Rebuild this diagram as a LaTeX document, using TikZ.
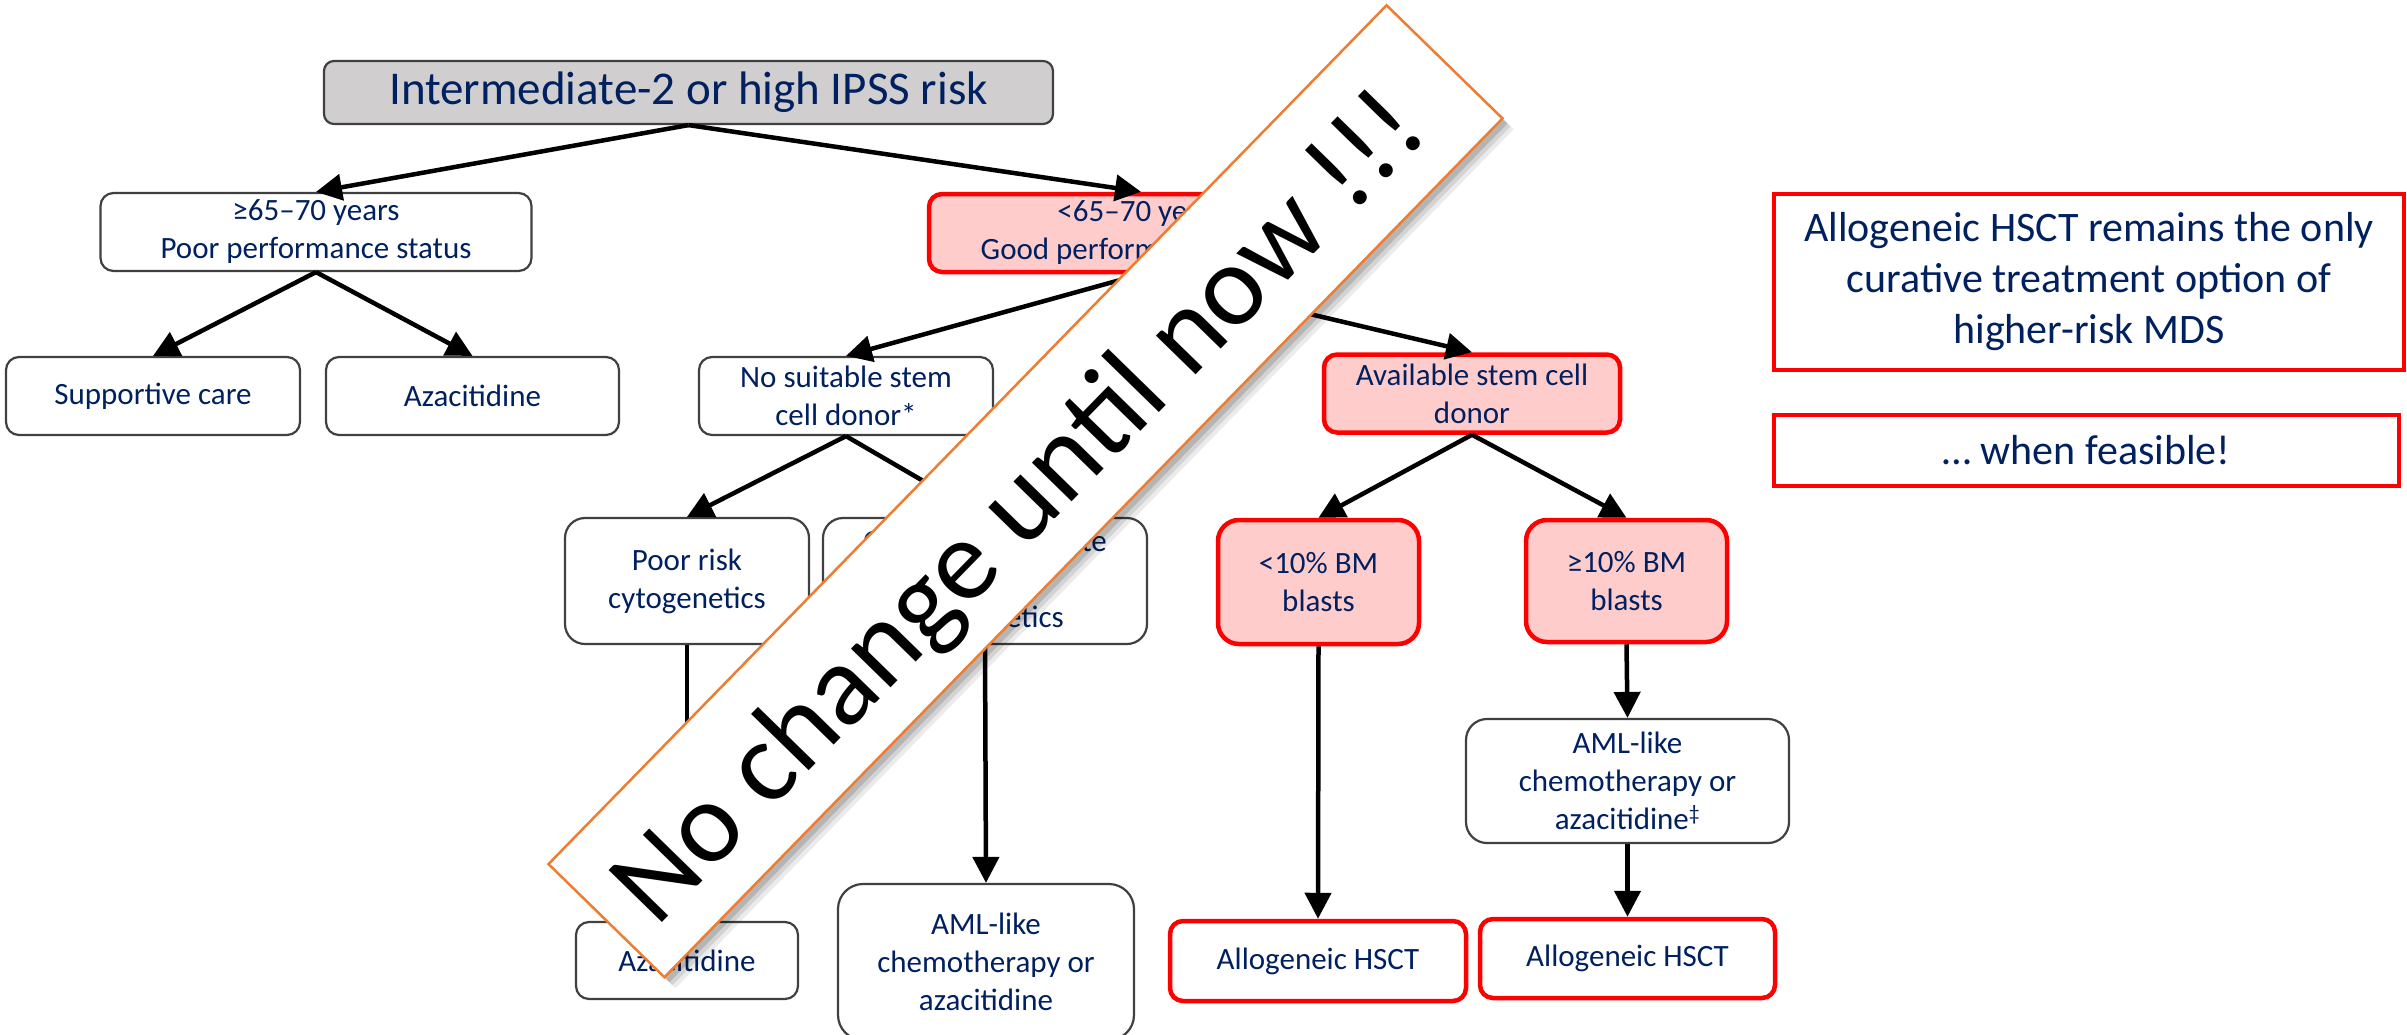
\documentclass[tikz,border=0pt]{standalone}
\usepackage{fontspec}
\setmainfont{Carlito}
\usetikzlibrary{arrows.meta,calc}
\definecolor{navy}{RGB}{0,32,96}
\definecolor{boxgray}{RGB}{208,206,206}
\definecolor{edgegray}{RGB}{64,64,64}
\definecolor{pinkfill}{RGB}{255,204,204}
\definecolor{alertred}{RGB}{255,0,0}
\definecolor{bannerorange}{RGB}{237,125,49}

\begin{document}
\begin{tikzpicture}[x=1pt,y=-1pt,
  box/.style={rectangle, rounded corners=13pt, draw=edgegray, line width=2.2pt,
    fill=white, inner sep=0pt, align=center, text=navy,
    font=\fontsize{31}{38}\selectfont},
  redbox/.style={box, draw=alertred, line width=4.5pt},
  hotbox/.style={redbox, fill=pinkfill},
  notebox/.style={rectangle, draw=alertred, line width=4pt, fill=white,
    inner sep=0pt, align=center, text=navy, font=\fontsize{42}{51}\selectfont},
  arr/.style={-{Triangle[length=26pt,width=26pt]}, line width=4.5pt, black},
  sz/.style 2 args={minimum width=#1pt, minimum height=#2pt},
  bannershape/.style={rectangle, rotate=45.7, inner sep=0pt,
    minimum width=1200pt, minimum height=162pt}
]
\useasboundingbox (0,0) rectangle (2407,1034);

% decision tree
\node[box, fill=boxgray, rounded corners=10pt, sz={729}{63},
      font=\fontsize{47}{56}\selectfont] (risk) at (688.5,92.5)
      {Intermediate-2 or high IPSS risk};
\node[box, sz={431}{78}] (old) at (316,232) {≥65–70 years\\Poor performance status};
\node[hotbox, sz={424}{78}] (young) at (1141,233) {<65–70 years\\Good performance status};

\node[box, sz={294}{78}] (supp) at (153,396) {Supportive care};
\node[box, sz={293}{78}] (azaA) at (472.5,396) {Azacitidine};
\node[box, sz={294}{78}] (nodonor) at (846,396) {No suitable stem\\cell donor*};
\node[hotbox, sz={296}{78}] (donor) at (1472,393.5) {Available stem cell\\donor};

\node[box, rounded corners=20pt, sz={244}{126}] (poor) at (687,581) {Poor risk\\cytogenetics};
\node[box, rounded corners=20pt, sz={324}{126}] (goodint) at (985,581) {Good/intermediate\\risk\\cytogenetics};
\node[hotbox, rounded corners=21pt, sz={201}{124}] (low) at (1318.5,582) {<10\% BM\\blasts};
\node[hotbox, rounded corners=21pt, sz={201}{122}] (high) at (1626.5,581) {≥10\% BM\\blasts};

\node[box, rounded corners=21pt, sz={323}{124}] (amlR) at (1627.5,781)
      {AML-like\\chemotherapy or\\azacitidine\textsuperscript{‡}};

\node[box, sz={222}{77}] (azaB) at (687,960.5) {Azacitidine};
\node[box, rounded corners=25pt, sz={296}{156}] (amlB) at (986,962)
      {AML-like\\chemotherapy or\\azacitidine};
\node[redbox, sz={296}{80}] (alloL) at (1318,961) {Allogeneic HSCT};
\node[redbox, sz={295}{79}] (alloR) at (1627.5,958.5) {Allogeneic HSCT};

% side notes
\node[notebox, sz={630}{176}] (note) at (2089,282)
      {Allogeneic HSCT remains the only\\curative treatment option of\\higher-risk MDS};
\node[notebox, sz={625}{71}] (feasible) at (2086.5,450.5) {… when feasible!};

% connectors
\draw[arr] (risk.south) -- (old.north);
\draw[arr] (risk.south) -- (young.north);
\draw[arr] (old.south) -- (supp.north);
\draw[arr] (old.south) -- (azaA.north);
\draw[arr] (young.south) -- (nodonor.north);
\draw[arr] (young.south) -- (donor.north);
\draw[arr] (nodonor.south) -- (poor.north);
\draw[arr] (nodonor.south) -- (goodint.north);
\draw[arr] (donor.south) -- (low.north);
\draw[arr] (donor.south) -- (high.north);
\draw[arr] (poor.south) -- (azaB.north);
\draw[arr] (goodint.south) -- (amlB.north);
\draw[arr] (low.south) -- (alloL.north);
\draw[arr] (high.south) -- (amlR.north);
\draw[arr] (amlR.south) -- (alloR.north);

% diagonal banner with a soft shadow
\coordinate (bc) at (1025.5,491.25);
\node[bannershape, fill=black, opacity=0.08] (shadowC) at ($(bc)+(11,11)$) {};
\node[bannershape, fill=black, opacity=0.10] (shadowB) at ($(bc)+(8,8)$) {};
\node[bannershape, fill=black, opacity=0.14] (shadowA) at ($(bc)+(5,5)$) {};
\node[bannershape, fill=white, draw=bannerorange, line width=2.5pt] (banner) at (bc) {};
\node[rotate=45.7, anchor=base, inner sep=0pt, font=\fontsize{116}{130}\selectfont]
      (slogan) at ($(bc)+(18,40)$) {No change until now !!!};
\end{tikzpicture}
\end{document}
